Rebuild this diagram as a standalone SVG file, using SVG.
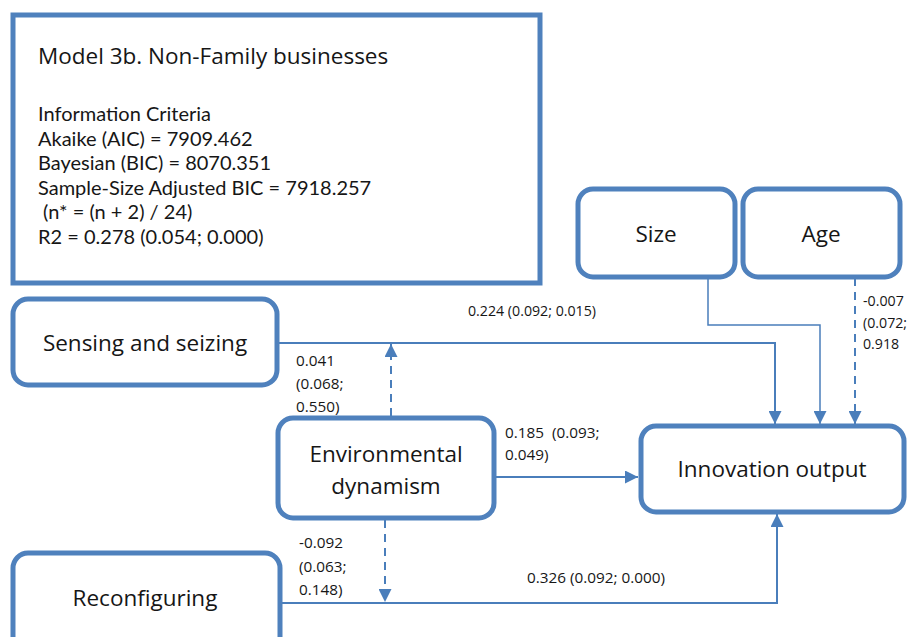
<svg xmlns="http://www.w3.org/2000/svg" width="910" height="637" viewBox="0 0 910 637">
<defs>
<style>
.node{fill:#fff;stroke:#4f81bd;stroke-width:5}
.box{fill:#fff;stroke:#4f81bd;stroke-width:5}
.c{fill:none;stroke:#4a7ebb;stroke-width:2}
.t{fill:none;stroke:#4a7ebb;stroke-width:1.5}
.d{stroke-dasharray:8 6}
text{font-family:"Open Sans","Liberation Sans",sans-serif;fill:#161616;white-space:pre}
.lbl{font-size:22.5px;text-anchor:middle}
.info{font-family:Lato,"Open Sans",sans-serif;font-size:20px}
.e{font-size:15.3px}
.s{font-size:14.2px}
</style>
<marker id="ah" viewBox="0 0 10 10" refX="10" refY="5" markerWidth="13" markerHeight="13" markerUnits="userSpaceOnUse" orient="auto">
<path d="M0,0 L10,5 L0,10 z" fill="#4a7ebb"/>
</marker>
</defs>
<rect width="910" height="637" fill="#fff"/>
<g id="info">
<rect class="box" x="13" y="15" width="527" height="268"/>
<text x="38" y="64" style="font-size:22.5px">Model 3b. Non-Family businesses</text>
<text class="info" x="38" y="121">Information Criteria</text>
<text class="info" x="38" y="146">Akaike (AIC) = 7909.462</text>
<text class="info" x="38" y="170">Bayesian (BIC) = 8070.351</text>
<text class="info" x="38" y="195">Sample-Size Adjusted BIC = 7918.257</text>
<text class="info" x="38" y="219">&#160;(n* = (n + 2) / 24)</text>
<text class="info" x="38" y="244">R2 = 0.278 (0.054; 0.000)</text>
</g>
<g id="connectors">
<path class="c" d="M279,343 H775 V424" marker-end="url(#ah)"/>
<path class="t" d="M708,278 V325 H820 V424" marker-end="url(#ah)"/>
<path class="c d" d="M855,278 V424" marker-end="url(#ah)"/>
<path class="c d" d="M391,416 V344" marker-end="url(#ah)"/>
<path class="c" d="M496,477 H638" marker-end="url(#ah)"/>
<path class="c d" d="M385,520 V602" marker-end="url(#ah)"/>
<path class="c" d="M282,603 H777 V514" marker-end="url(#ah)"/>
<text class="s" x="468" y="316">0.224 (0.092; 0.015)</text>
<text class="s" x="863" y="306">-0.007</text>
<text class="s" x="863" y="328">(0.072;</text>
<text class="s" x="863" y="349">0.918</text>
<text class="e" x="296" y="366">0.041</text>
<text class="e" x="296" y="389">(0.068;</text>
<text class="e" x="296" y="412">0.550)</text>
<text class="e" x="505" y="438">0.185&#160;&#160;(0.093;</text>
<text class="e" x="505" y="460">0.049)</text>
<text class="e" x="299" y="548">-0.092</text>
<text class="e" x="299" y="572">(0.063;</text>
<text class="e" x="299" y="595">0.148)</text>
<text class="e" x="527" y="583">0.326 (0.092; 0.000)</text>
</g>
<g id="sensing">
<rect class="node" x="13" y="299" width="264" height="86" rx="15"/>
<text class="lbl" x="145" y="351">Sensing and seizing</text>
</g>
<g id="size">
<rect class="node" x="578" y="189" width="157" height="88" rx="15"/>
<text class="lbl" x="656" y="242">Size</text>
</g>
<g id="age">
<rect class="node" x="743" y="189" width="157" height="88" rx="15"/>
<text class="lbl" x="821" y="242">Age</text>
</g>
<g id="env">
<rect class="node" x="278" y="418" width="216" height="100" rx="15"/>
<text class="lbl" x="386" y="462">Environmental</text>
<text class="lbl" x="386" y="494">dynamism</text>
</g>
<g id="innovation">
<rect class="node" x="641" y="426" width="263" height="86" rx="15"/>
<text class="lbl" x="772" y="477">Innovation output</text>
</g>
<g id="reconfiguring">
<rect class="node" x="13" y="553" width="267" height="100" rx="15"/>
<text class="lbl" x="145" y="606">Reconfiguring</text>
</g>
</svg>
